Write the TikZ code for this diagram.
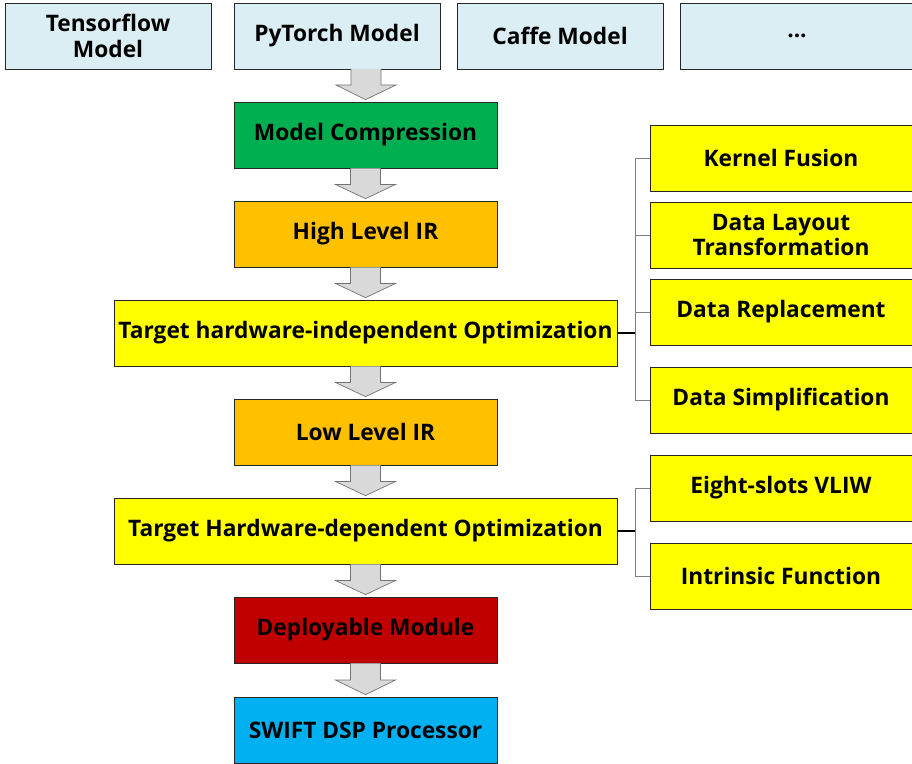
\documentclass[tikz,border=0pt]{standalone}
\usepackage{fontspec}
\setmainfont{Open Sans}
\usetikzlibrary{calc}
\usetikzlibrary{arrows.meta}

\definecolor{srcblue}{RGB}{218,238,243}
\definecolor{cmpgreen}{RGB}{0,176,80}
\definecolor{iramber}{RGB}{255,192,0}
\definecolor{optyellow}{RGB}{255,255,0}
\definecolor{deplred}{RGB}{192,0,0}
\definecolor{dspcyan}{RGB}{0,176,240}
\definecolor{arrgray}{RGB}{217,217,217}

\tikzset{
  box/.style={draw=black!85, line width=0.6pt, minimum height=1.98cm, inner sep=2pt,
    align=center, font=\fontsize{19.4}{21.5}\selectfont\bfseries},
  srcbox/.style={box, fill=srcblue, minimum width=6.18cm},
  mainbox/.style={box, minimum width=7.89cm},
  widebox/.style={box, fill=optyellow, minimum width=15.09cm},
  sidebox/.style={box, fill=optyellow, minimum width=7.86cm},
  flowarr/.style={draw=black!55, fill=arrgray, line width=0.6pt, line join=miter},
  branch/.style={draw=black!50, line width=0.8pt}
}

% block arrow between two stacked boxes
\newcommand\flowarrow[2]{
  \draw[flowarr] ($(#1.south)+(-15,0)$) -- ($(#1.south)!0.5!(#2.north)+(-15,0)$)
    -- ($(#1.south)!0.5!(#2.north)+(-30,0)$) -- ($(#2.north)+(0,-2)$)
    -- ($(#1.south)!0.5!(#2.north)+(30,0)$) -- ($(#1.south)!0.5!(#2.north)+(15,0)$)
    -- ($(#1.south)+(15,0)$);
}

\begin{document}
\begin{tikzpicture}[x=0.03cm, y=-0.03cm]
    \useasboundingbox (0,0) rectangle (912,764);
    \begin{scope}
    \clip (0,0) rectangle (912,764);
    % source models
    \node[srcbox] (tf) at (108,36) {Tensorflow\\Model};
    \node[srcbox] (pt) at (337,36) {PyTorch Model};
    \node[srcbox] (cf) at (560,36) {Caffe Model};
    \node[srcbox, minimum width=7.02cm] (more) at (797,36) {...};

    % main flow
    \node[mainbox, fill=cmpgreen] (mc) at (365.5,135) {Model Compression};
    \node[mainbox, fill=iramber] (hir) at (365.5,234) {High Level IR};
    \node[widebox] (tio) at (365.5,333) {Target hardware-independent Optimization};
    \node[mainbox, fill=iramber] (lir) at (365.5,432) {Low Level IR};
    \node[widebox] (tdo) at (365.5,531) {Target Hardware-dependent Optimization};
    \node[mainbox, fill=deplred] (dm) at (365.5,630) {Deployable Module};
    \node[mainbox, fill=dspcyan] (dsp) at (365.5,730) {SWIFT DSP Processor};

    % side boxes
    \node[sidebox] (kf) at (781,158) {Kernel Fusion};
    \node[sidebox] (dl) at (781,235) {Data Layout\\Transformation};
    \node[sidebox] (dr) at (781,312) {Data Replacement};
    \node[sidebox] (ds) at (781,400) {Data Simplification};
    \node[sidebox] (ev) at (781,488) {Eight-slots VLIW};
    \node[sidebox] (inf) at (781,576) {Intrinsic Function};
    \end{scope}

    % block arrows
    \coordinate (ptb) at (366,69);
    \draw[flowarr] ($(ptb)+(-15,0)$) -- ($(ptb)+(-15,16)$) -- ($(ptb)+(-30,16)$)
      -- ($(mc.north)+(0,-2)$) -- ($(ptb)+(30,16)$) -- ($(ptb)+(15,16)$) -- ($(ptb)+(15,0)$);
    \flowarrow{mc}{hir}
    \flowarrow{hir}{tio}
    \flowarrow{tio}{lir}
    \flowarrow{lir}{tdo}
    \flowarrow{tdo}{dm}
    \flowarrow{dm}{dsp}

    % branches
    \coordinate (tiob) at ($(tio.east)+(18,0)$);
    \draw[line width=0.9pt] (tio.east) -- (tiob);
    \foreach \s in {kf,dl,dr,ds}
      \draw[branch] (tiob) |- (\s.west);
    \coordinate (tdob) at ($(tdo.east)+(18,0)$);
    \draw[line width=0.9pt] (tdo.east) -- (tdob);
    \foreach \s in {ev,inf}
      \draw[branch] (tdob) |- (\s.west);
\end{tikzpicture}
\end{document}
